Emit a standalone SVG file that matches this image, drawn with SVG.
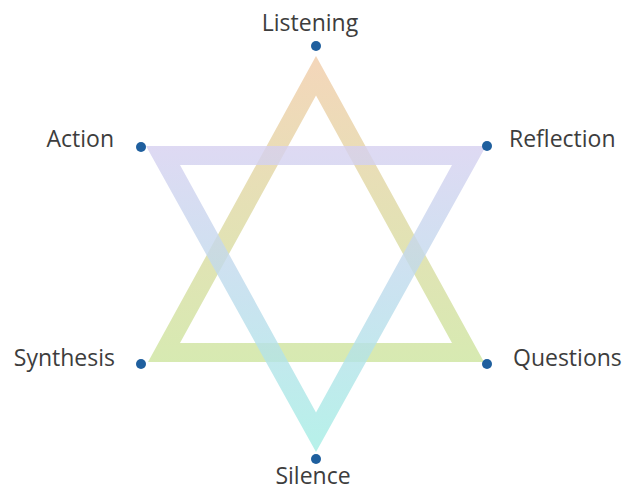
<svg xmlns="http://www.w3.org/2000/svg" width="629" height="490" viewBox="0 0 629 490">
<style>
.lbl{font-family:"Open Sans","Liberation Sans",sans-serif;font-size:23px;fill:#3d3d3d}
.dot{fill:#1f5f9e}
</style>
<defs>
<linearGradient id="gUp" x1="0" y1="56" x2="0" y2="362" gradientUnits="userSpaceOnUse">
<stop offset="0" stop-color="#f2cfae"/>
<stop offset="0.5" stop-color="#e0dba8"/>
<stop offset="1" stop-color="#d0e6a4"/>
</linearGradient>
<linearGradient id="gDown" x1="0" y1="146" x2="0" y2="452" gradientUnits="userSpaceOnUse">
<stop offset="0" stop-color="#d6d0f0"/>
<stop offset="0.5" stop-color="#bcdcec"/>
<stop offset="1" stop-color="#a4eee4"/>
</linearGradient>
</defs>
<g id="connectors">
<path id="tri-up" d="M316,56 L484,362 L148,362 Z M316,95.5 L180,343 L452,343 Z" fill="url(#gUp)" fill-rule="evenodd" opacity="0.85"/>
<path id="tri-down" d="M146,146 L486,146 L316,452 Z M180,165 L316,412.5 L452,165 Z" fill="url(#gDown)" fill-rule="evenodd" opacity="0.8"/>
</g>
<g id="listening"><circle class="dot" cx="316" cy="46" r="5"/><text class="lbl" x="310" y="31" text-anchor="middle">Listening</text></g>
<g id="action"><circle class="dot" cx="141" cy="147" r="5"/><text class="lbl" x="114" y="147" text-anchor="end">Action</text></g>
<g id="reflection"><circle class="dot" cx="487" cy="146" r="5"/><text class="lbl" x="509" y="147">Reflection</text></g>
<g id="synthesis"><circle class="dot" cx="141" cy="364" r="5"/><text class="lbl" x="115" y="366" text-anchor="end">Synthesis</text></g>
<g id="questions"><circle class="dot" cx="487" cy="364" r="5"/><text class="lbl" x="513" y="366">Questions</text></g>
<g id="silence"><circle class="dot" cx="316" cy="459" r="5"/><text class="lbl" x="313" y="484" text-anchor="middle">Silence</text></g>
</svg>
